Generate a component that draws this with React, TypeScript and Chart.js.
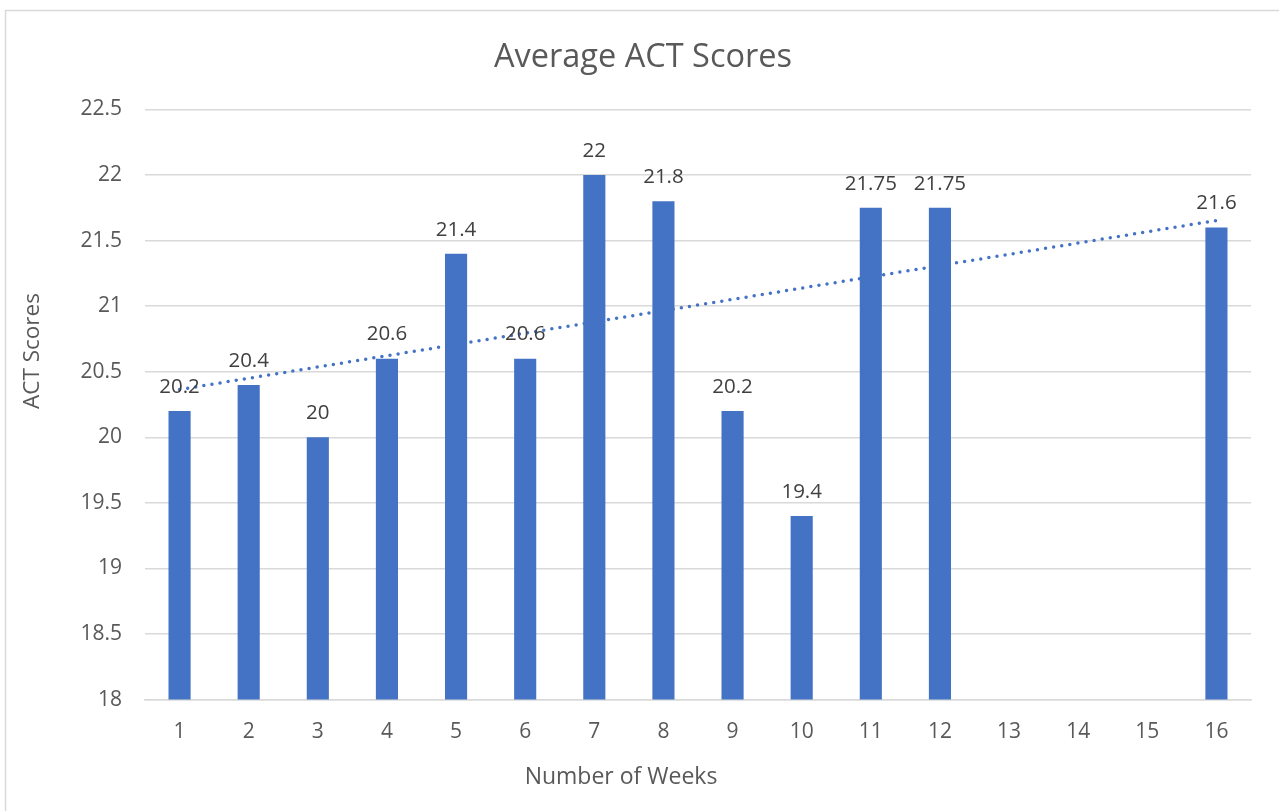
import React, { useEffect, useRef } from "react";
import { Chart, registerables } from "chart.js";

Chart.register(...registerables);

const weeks = ["1", "2", "3", "4", "5", "6", "7", "8", "9", "10", "11", "12", "13", "14", "15", "16"];
const scores: (number | null)[] = [20.2, 20.4, 20, 20.6, 21.4, 20.6, 22, 21.8, 20.2, 19.4, 21.75, 21.75, null, null, null, 21.6];
const yMin = 18;
const yMax = 22.5;
const yStep = 0.5;

const chartTitle = "Average ACT Scores";
const xTitle = "Number of Weeks";
const yTitle = "ACT Scores";

// Linear trendline (least squares over the category index), as in the source spreadsheet
function trend(values: (number | null)[]): number[] {
  const pts = values
    .map((v, i) => (v == null ? null : { x: i + 1, y: v }))
    .filter((p): p is { x: number; y: number } => p !== null);
  const n = pts.length;
  const mx = pts.reduce((s, p) => s + p.x, 0) / n;
  const my = pts.reduce((s, p) => s + p.y, 0) / n;
  let sxy = 0;
  let sxx = 0;
  pts.forEach((p) => {
    sxy += (p.x - mx) * (p.y - my);
    sxx += (p.x - mx) * (p.x - mx);
  });
  const slope = sxy / sxx;
  const icpt = my - slope * mx;
  return values.map((_, i) => icpt + slope * (i + 1));
}

const FONT = "'Open Sans', sans-serif";

const decorPlugin = {
  id: "decor",
  beforeDraw(chart: any) {
    const ctx = chart.ctx;
    ctx.save();
    ctx.fillStyle = "#ffffff";
    ctx.fillRect(0, 0, chart.width, chart.height);
    ctx.strokeStyle = "#d9d9d9";
    ctx.lineWidth = 1.5;
    ctx.beginPath();
    ctx.moveTo(5.5, chart.height);
    ctx.lineTo(5.5, 10.5);
    ctx.lineTo(chart.width, 10.5);
    ctx.stroke();
    ctx.restore();
  },
  afterDraw(chart: any) {
    const ctx = chart.ctx;
    ctx.save();
    ctx.fillStyle = "#595959";
    ctx.textAlign = "center";
    ctx.textBaseline = "middle";
    ctx.font = `23px ${FONT}`;
    ctx.fillText(xTitle, 621, 777);
    ctx.font = `22.5px ${FONT}`;
    ctx.translate(33, 351);
    ctx.rotate(-Math.PI / 2);
    ctx.fillText(yTitle, 0, 0);
    ctx.restore();
  },
  afterDatasetsDraw(chart: any) {
    const ctx = chart.ctx;
    const meta = chart.getDatasetMeta(0);
    ctx.save();
    ctx.fillStyle = "#404040";
    ctx.font = `20.5px ${FONT}`;
    ctx.textAlign = "center";
    ctx.textBaseline = "middle";
    meta.data.forEach((el: any, i: number) => {
      const v = scores[i];
      if (v == null) return;
      ctx.fillText(String(v), el.x, el.y - 24);
    });
    ctx.restore();
  },
};

export default function App() {
  const ref = useRef<HTMLCanvasElement | null>(null);
  useEffect(() => {
    if (!ref.current) return;
    const chart = new Chart(ref.current, {
      type: "bar",
      data: {
        labels: weeks,
        datasets: [
          {
            type: "bar",
            label: "ACT Scores",
            data: scores,
            backgroundColor: "#4472C4",
            barPercentage: 0.32,
            categoryPercentage: 1,
            order: 2,
          },
          {
            type: "line",
            label: "Linear trend",
            data: trend(scores),
            borderColor: "#4472C4",
            borderWidth: 3.5,
            borderDash: [0, 8.2],
            borderCapStyle: "round",
            pointRadius: 0,
            fill: false,
            order: 1,
          } as any,
        ],
      },
      options: {
        responsive: true,
        maintainAspectRatio: false,
        animation: false,
        layout: { padding: { left: 35, right: 28, top: 0, bottom: 46.2 } },
        plugins: {
          legend: { display: false },
          tooltip: { enabled: false },
          title: {
            display: true,
            text: chartTitle,
            color: "#595959",
            font: { family: FONT, size: 32.5, weight: "normal" },
            padding: { top: 38.5, bottom: 32 },
          },
        },
        scales: {
          x: {
            grid: { display: false, drawTicks: false },
            border: { display: true, color: "#d9d9d9", width: 1.5 },
            ticks: {
              color: "#595959",
              font: { family: FONT, size: 21 },
              padding: 20,
              maxRotation: 0,
              autoSkip: false,
            },
          },
          y: {
            min: yMin,
            max: yMax,
            afterFit(scale: any) {
              scale.width = 110;
            },
            grid: { color: "#d9d9d9", lineWidth: 1.5, drawTicks: false },
            border: { display: false },
            ticks: {
              stepSize: yStep,
              color: "#595959",
              font: { family: FONT, size: 21 },
              padding: 23,
              callback: (v: any) => String(Number(v)),
            },
          },
        },
      },
      plugins: [decorPlugin],
    });
    return () => chart.destroy();
  }, []);

  return (
    <div style={{ position: "fixed", left: 0, top: 0, width: 1279, height: 811 }}>
      <canvas ref={ref} />
    </div>
  );
}
